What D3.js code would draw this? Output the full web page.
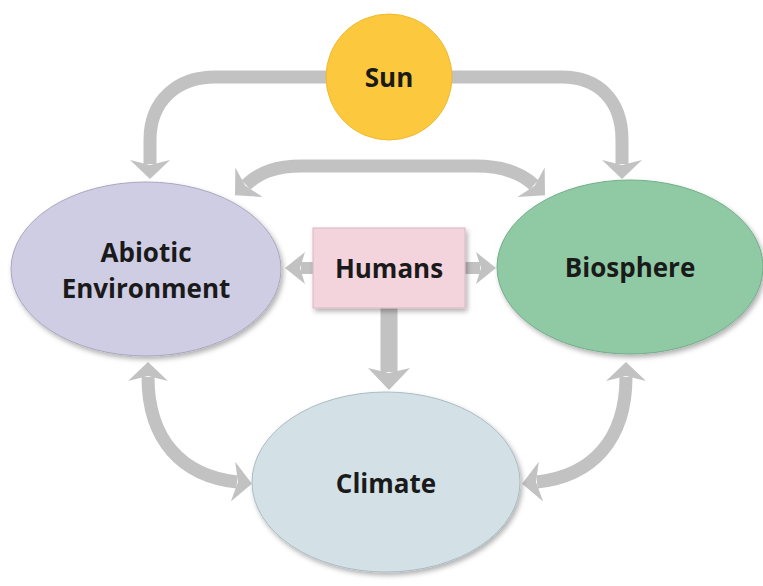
<!DOCTYPE html>
<html>
<head>
<meta charset="utf-8">
<title>Sun, Humans, Biosphere, Climate</title>
<script src="https://cdn.jsdelivr.net/npm/d3@7"></script>
<style>
body, html {
  margin: 0;
  background: #fff;
}
.node-label {
  font-family: "Open Sans", "DejaVu Sans", sans-serif;
  font-weight: 700;
  font-size: 26px;
  fill: #1a1a1a;
  text-anchor: middle;
}
.arrow {
  fill: none;
  stroke: #c2c2c2;
}
</style>
</head>
<body>
<script>
// nodes of the diagram
var nodeIds    = ["sun", "abiotic", "biosphere", "climate", "humans"];
var nodeLabels = [["Sun"], ["Abiotic", "Environment"], ["Biosphere"], ["Climate"], ["Humans"]];
var nodeShapes = ["circle", "ellipse", "ellipse", "ellipse", "rect"];

// links: source, target, two-way?
var linkSource = ["sun", "sun", "abiotic", "humans", "humans", "humans", "abiotic", "biosphere"];
var linkTarget = ["abiotic", "biosphere", "biosphere", "abiotic", "biosphere", "climate", "climate", "climate"];
var linkBoth   = [false, false, true, false, false, false, true, true];

// layout (positions / styles only)
var layout = {
  sun:       {x: 389, y: 77,  rx: 63, ry: 63, fill: "#fcc93e", stroke: "#f0b92c", text: [87]},
  abiotic:   {x: 146, y: 269, rx: 135, ry: 87, fill: "#cfcde3", stroke: "#a9a7bd", text: [262, 298]},
  biosphere: {x: 630, y: 267, rx: 133, ry: 87, fill: "#8fcaa5", stroke: "#73ad89", text: [277]},
  climate:   {x: 386, y: 482, rx: 134, ry: 90, fill: "#d3e1e6", stroke: "#aabcc3", text: [493]},
  humans:    {x: 389, y: 268, rx: 76, ry: 40, fill: "#f3d4dd", stroke: "#dcb6c2", text: [278]}
};

// routes for each link: start, then cubic segments [c1, c2, end] or straight [end]
var routes = [
  {w: 13, head: "big",  pts: [[389, 77], [215, 77], [[178, 77], [150, 100], [150, 140]], [150, 164]]},
  {w: 13, head: "big",  pts: [[389, 77], [562, 77], [[598, 77], [622, 100], [622, 140]], [622, 164]]},
  {w: 13, head: "big",  pts: [[246, 185], [[260, 172], [276, 166], [302, 166]], [476, 166], [[502, 166], [520, 172], [534, 185]]]},
  {w: 12, head: "small", pts: [[389, 268], [301, 268]]},
  {w: 12, head: "small", pts: [[389, 268], [480, 268]]},
  {w: 17, head: "down", pts: [[389, 268], [389, 372]]},
  {w: 13, head: "big",  pts: [[148, 377], [[148, 440], [182, 476], [237, 482]]]},
  {w: 13, head: "big",  pts: [[626, 377], [[626, 440], [592, 476], [537, 482]]]}
];

var width = 763, height = 586;

var svg = d3.select("body")
  .append("svg")
  .attr("width", width)
  .attr("height", height);

var defs = svg.append("defs");

var shadow = defs.append("filter")
  .attr("id", "shadow")
  .attr("x", "-20%").attr("y", "-20%")
  .attr("width", "140%").attr("height", "140%");
shadow.append("feDropShadow")
  .attr("dx", 2).attr("dy", 3)
  .attr("stdDeviation", 2.5)
  .attr("flood-color", "#000")
  .attr("flood-opacity", 0.3);

// arrow heads (tip sits ahead of the path end)
var heads = {
  big:   {len: 15, half: 20},
  small: {len: 16, half: 16},
  down:  {len: 18, half: 21}
};
Object.keys(heads).forEach(function(k) {
  var h = heads[k];
  defs.append("marker")
    .attr("id", "head-" + k)
    .attr("markerUnits", "userSpaceOnUse")
    .attr("viewBox", (-6) + " " + (-h.half - 1) + " " + (h.len + 8) + " " + (2 * h.half + 2))
    .attr("refX", 0).attr("refY", 0)
    .attr("markerWidth", h.len + 8)
    .attr("markerHeight", 2 * h.half + 2)
    .attr("orient", "auto-start-reverse")
    .append("path")
    .attr("d", "M" + h.len + ",0 L-4," + (-h.half) + " L1,0 L-4," + h.half + " Z")
    .attr("fill", "#c2c2c2");
});

function routePath(pts) {
  var p = d3.path();
  p.moveTo(pts[0][0], pts[0][1]);
  for (var i = 1; i < pts.length; i++) {
    var s = pts[i];
    if (Array.isArray(s[0])) {
      p.bezierCurveTo(s[0][0], s[0][1], s[1][0], s[1][1], s[2][0], s[2][1]);
    } else {
      p.lineTo(s[0], s[1]);
    }
  }
  return p.toString();
}

// links first, so the shapes cover the tails
var links = linkSource.map(function(s, i) {
  return {source: s, target: linkTarget[i], both: linkBoth[i], route: routes[i]};
});

svg.append("g")
  .selectAll("path")
  .data(links)
  .enter().append("path")
  .attr("class", "arrow")
  .attr("d", function(d) { return routePath(d.route.pts); })
  .attr("stroke-width", function(d) { return d.route.w; })
  .attr("marker-end", function(d) { return "url(#head-" + d.route.head + ")"; })
  .attr("marker-start", function(d) { return d.both ? "url(#head-" + d.route.head + ")" : null; });

var nodes = nodeIds.map(function(id, i) {
  return {id: id, label: nodeLabels[i], shape: nodeShapes[i], L: layout[id]};
});

var g = svg.append("g")
  .selectAll("g")
  .data(nodes)
  .enter().append("g");

g.each(function(d) {
  var el = d3.select(this);
  var L = d.L;
  if (d.shape === "rect") {
    el.append("rect")
      .attr("x", L.x - L.rx).attr("y", L.y - L.ry)
      .attr("width", 2 * L.rx).attr("height", 2 * L.ry)
      .attr("fill", L.fill)
      .attr("stroke", L.stroke)
      .attr("stroke-width", 1)
      .attr("filter", "url(#shadow)");
  } else {
    el.append("ellipse")
      .attr("cx", L.x).attr("cy", L.y)
      .attr("rx", L.rx).attr("ry", L.ry)
      .attr("fill", L.fill)
      .attr("stroke", L.stroke)
      .attr("stroke-width", 1)
      .attr("filter", d.shape === "circle" ? null : "url(#shadow)");
  }
  d.label.forEach(function(t, j) {
    el.append("text")
      .attr("class", "node-label")
      .attr("x", L.x)
      .attr("y", L.text[j])
      .text(t);
  });
});
</script>
</body>
</html>
